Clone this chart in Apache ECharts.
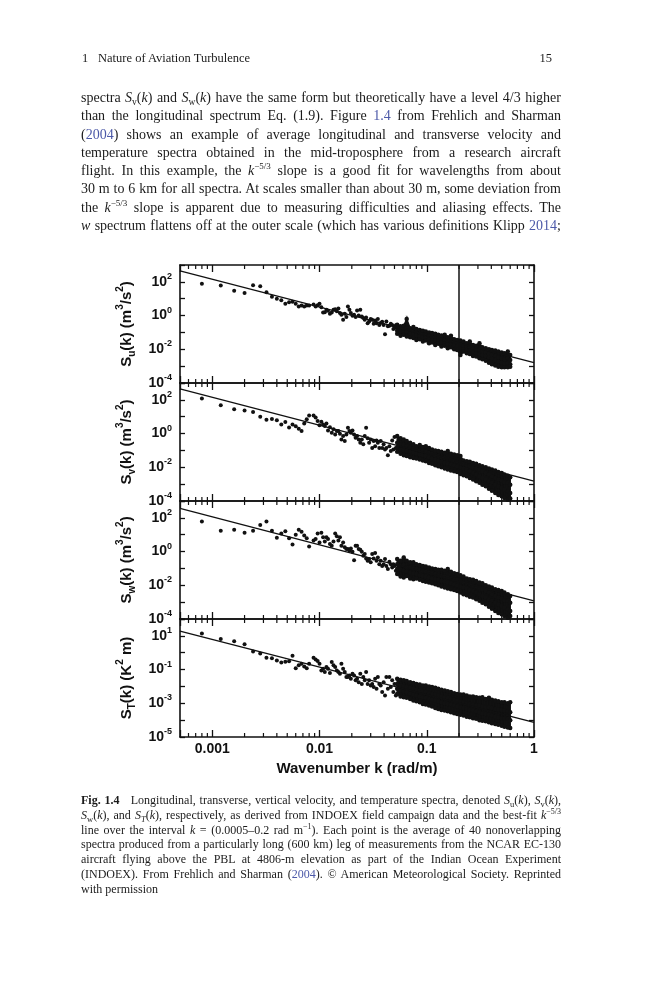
<!DOCTYPE html>
<html>
<head>
<meta charset="utf-8">
<title>Fig. 1.4 spectra</title>
<script src="https://cdn.jsdelivr.net/npm/echarts@6.0.0/dist/echarts.min.js"></script>
<style>
  html, body { margin: 0; padding: 0; background: #fff; }
  #page { position: relative; width: 659px; height: 1000px; overflow: hidden;
          font-family: "Liberation Serif", "Times New Roman", serif; color: #1b1b1b; }
  #chart { position: absolute; left: 0; top: 0; width: 659px; height: 1000px; }
  .head { position: absolute; top: 51px; font-size: 12.5px; line-height: 15px; }
  .block { position: absolute; left: 81px; width: 480px; }
  .block div { text-align: justify; text-align-last: justify; }
  .block div.last { text-align-last: left; word-spacing: normal; }
  .body { top: 89px; font-size: 14px; line-height: 18.3px; }
  .cap { top: 793px; font-size: 12px; line-height: 14.8px; }
  .cap div { word-spacing: -2px; }
  sup, sub { line-height: 0; }
  .body sup { font-size: 9px; vertical-align: 6px; }
  .body sub { font-size: 9.5px; vertical-align: -3px; }
  .cap sup { font-size: 8px; vertical-align: 5px; }
  .cap sub { font-size: 8.5px; vertical-align: -3px; }
  .ref { color: #4b58a8; }
</style>
</head>
<body>
<div id="page">
  <div id="chart"></div>
  <div class="head" style="left:82px">1</div>
  <div class="head" style="left:98px">Nature of Aviation Turbulence</div>
  <div class="head" style="right:107px">15</div>
  <div class="block body">
    <div>spectra <i>S</i><sub>v</sub>(<i>k</i>) and <i>S</i><sub>w</sub>(<i>k</i>) have the same form but theoretically have a level 4/3 higher</div>
    <div>than the longitudinal spectrum Eq. (1.9). Figure <span class="ref">1.4</span> from Frehlich and Sharman</div>
    <div>(<span class="ref">2004</span>) shows an example of average longitudinal and transverse velocity and</div>
    <div>temperature spectra obtained in the mid-troposphere from a research aircraft</div>
    <div>flight. In this example, the <i>k</i><sup>&minus;5/3</sup> slope is a good fit for wavelengths from about</div>
    <div>30 m to 6 km for all spectra. At scales smaller than about 30 m, some deviation from</div>
    <div>the <i>k</i><sup>&minus;5/3</sup> slope is apparent due to measuring difficulties and aliasing effects. The</div>
    <div><i>w</i> spectrum flattens off at the outer scale (which has various definitions Klipp <span class="ref">2014</span>;</div>
  </div>
  <div class="block cap">
    <div><b>Fig. 1.4</b>&nbsp;&nbsp; Longitudinal, transverse, vertical velocity, and temperature spectra, denoted <i>S</i><sub>u</sub>(<i>k</i>), <i>S</i><sub>v</sub>(<i>k</i>),</div>
    <div><i>S</i><sub>w</sub>(<i>k</i>), and <i>S</i><sub><i>T</i></sub>(<i>k</i>), respectively, as derived from INDOEX field campaign data and the best-fit <i>k</i><sup>&minus;5/3</sup></div>
    <div>line over the interval <i>k</i> = (0.0005&ndash;0.2 rad m<sup>&minus;1</sup>). Each point is the average of 40 nonoverlapping</div>
    <div>spectra produced from a particularly long (600 km) leg of measurements from the NCAR EC-130</div>
    <div>aircraft flying above the PBL at 4806-m elevation as part of the Indian Ocean Experiment</div>
    <div>(INDOEX). From Frehlich and Sharman (<span class="ref">2004</span>). &copy; American Meteorological Society. Reprinted</div>
    <div class="last">with permission</div>
  </div>
</div>
<script>
var fontSans = '"Liberation Sans", Arial, sans-serif';
var ink = '#111';

// wavenumbers (rad/m) of the plotted points
var kSparse = [0.0008, 0.0012, 0.0016, 0.002, 0.0024, 0.0028, 0.0032, 0.0036, 0.004, 0.0044,
  0.0048, 0.0052, 0.0056, 0.006, 0.0064, 0.0068, 0.0072, 0.0076, 0.008];
var kMidA = [0.0088, 0.0096, 0.0104, 0.0112, 0.012, 0.013, 0.014, 0.015, 0.016, 0.0172,
  0.0184, 0.0196, 0.021, 0.0224, 0.024, 0.0256, 0.0272, 0.029, 0.031, 0.033,
  0.035, 0.0372, 0.0396, 0.042, 0.0448, 0.0476, 0.05];
var kMidB = [0.0092, 0.01, 0.0108, 0.0116, 0.0125, 0.0135, 0.0145, 0.0155, 0.0166, 0.0178,
  0.019, 0.0203, 0.0217, 0.0232, 0.0248, 0.0264, 0.0281, 0.03, 0.032, 0.034,
  0.0361, 0.0384, 0.0408, 0.0434, 0.0462, 0.0488, 0.0515];
var kDense = [0.053, 0.057, 0.061, 0.065, 0.07, 0.075, 0.08, 0.086, 0.092, 0.098,
  0.105, 0.112, 0.12, 0.128, 0.137, 0.147, 0.157, 0.168, 0.18, 0.192,
  0.206, 0.22, 0.236, 0.252, 0.27, 0.289, 0.31, 0.33, 0.355, 0.38,
  0.405, 0.435, 0.465, 0.5, 0.53, 0.57, 0.6];

// ends of the best-fit k^-5/3 lines and the upper end of the fit interval
var fitK = [0.0005, 1];
var cutoffK = 0.2;

// tick marks / labels of the wavenumber axis
var minorTickK = [0.0006, 0.0007, 0.0008, 0.0009, 0.002, 0.003, 0.004, 0.005, 0.006, 0.007, 0.008, 0.009,
  0.02, 0.03, 0.04, 0.05, 0.06, 0.07, 0.08, 0.09, 0.2, 0.3, 0.4, 0.5, 0.6, 0.7, 0.8, 0.9];
var xTickLabels = ['0.001', '0.01', '0.1', '1'];

// S_u(k); dense rows are [top, upper, lower, bottom] of the point cloud at each k
var uSparse = [76, 60, 30, 22, 63, 55, 24, 13, 10, 8, 5, 6.2, 6.5, 5, 3.5, 4, 3.5, 3.9, 3.9];
var uMidA = [4.5, 4.1, 3.1, 1.6, 1.9, 1.5, 2.4, 2.6, 1.1, 1.3, 3.4, 1.4, 1.1, 2.0, 2.2, 0.71, 0.78,
  0.45, 0.56, 0.51, 0.62, 0.36, 0.28, 0.45, 0.25, 0.28, 0.21];
var uMidB = [3.5, 5.1, 1.5, 2.2, 1.3, 2.2, 1.8, 1.4, 0.56, 0.81, 2.2, 0.96, 0.81, 1.0, 0.89, 0.56, 0.35,
  0.62, 0.33, 0.35, 0.28, 0.43, 0.079, 0.23, 0.33, 0.16, 0.27];
var uDense = [
  [0.29, 0.18, 0.125, 0.083], [0.23, 0.16, 0.109, 0.063], [0.25, 0.14, 0.1, 0.072], [0.62, 0.18, 0.114, 0.057],
  [0.18, 0.125, 0.083, 0.052], [0.21, 0.114, 0.076, 0.046], [0.16, 0.1, 0.063, 0.036], [0.14, 0.091, 0.057, 0.04],
  [0.125, 0.079, 0.052, 0.029], [0.114, 0.072, 0.046, 0.033], [0.1, 0.063, 0.04, 0.023], [0.091, 0.057, 0.036, 0.025],
  [0.083, 0.052, 0.033, 0.018], [0.072, 0.046, 0.029, 0.021], [0.066, 0.04, 0.025, 0.0145], [0.072, 0.036, 0.023, 0.016],
  [0.052, 0.033, 0.02, 0.0116], [0.063, 0.029, 0.018, 0.0133], [0.04, 0.025, 0.016, 0.01], [0.036, 0.023, 0.0145, 0.0092],
  [0.033, 0.018, 0.0116, 0.0046], [0.029, 0.016, 0.01, 0.0073], [0.023, 0.0145, 0.0092, 0.0058], [0.029, 0.0133, 0.0084, 0.0053],
  [0.018, 0.011, 0.007, 0.004], [0.016, 0.0092, 0.0058, 0.0037], [0.023, 0.0084, 0.0053, 0.0029], [0.0133, 0.0073, 0.0046, 0.0026],
  [0.0116, 0.0064, 0.004, 0.0021], [0.01, 0.0053, 0.0034, 0.0016], [0.0092, 0.0046, 0.0028, 0.0013], [0.0084, 0.004, 0.0023, 0.0011],
  [0.0073, 0.0034, 0.0019, 0.00093], [0.0064, 0.0029, 0.0016, 0.00085], [0.0058, 0.0026, 0.0015, 0.00085], [0.0073, 0.0029, 0.0015, 0.00085],
  [0.0046, 0.0023, 0.0013, 0.00093]
];
var uFit = [450, 0.0016];

// S_v(k)
var vSparse = [120, 48, 28, 23, 19, 10, 6.7, 7.4, 6.2, 3.5, 4.9, 2.3, 3.5, 2.7, 1.9, 1.4, 3.9, 7.1, 12];
var vMidA = [12, 5.6, 5.1, 2.8, 1.5, 1.1, 0.89, 1.4, 0.45, 0.36, 2.2, 1.1, 0.89, 0.71, 0.29, 0.23, 2.2,
  0.29, 0.14, 0.18, 0.29, 0.36, 0.23, 0.14, 0.18, 0.39, 0.62];
var vMidB = [8.9, 3.1, 3.5, 3.9, 2.4, 1.8, 1.4, 0.96, 0.71, 0.89, 1.4, 1.5, 0.57, 0.45, 0.45, 0.71, 0.52,
  0.45, 0.36, 0.39, 0.14, 0.14, 0.114, 0.052, 0.091, 0.114, 0.14];
var vDense = [
  [0.71, 0.29, 0.14, 0.083], [0.52, 0.23, 0.114, 0.063], [0.45, 0.21, 0.1, 0.052], [0.36, 0.18, 0.091, 0.046],
  [0.29, 0.16, 0.083, 0.04], [0.23, 0.13, 0.072, 0.036], [0.18, 0.114, 0.063, 0.033], [0.21, 0.1, 0.057, 0.029],
  [0.16, 0.091, 0.052, 0.025], [0.18, 0.083, 0.046, 0.023], [0.14, 0.072, 0.04, 0.018], [0.114, 0.063, 0.033, 0.016],
  [0.1, 0.052, 0.029, 0.0133], [0.091, 0.046, 0.025, 0.0116], [0.083, 0.04, 0.021, 0.01], [0.072, 0.036, 0.018, 0.0084],
  [0.091, 0.033, 0.016, 0.0073], [0.063, 0.029, 0.0145, 0.0064], [0.057, 0.025, 0.0133, 0.0058], [0.052, 0.023, 0.0116, 0.0053],
  [0.046, 0.021, 0.01, 0.004], [0.025, 0.016, 0.0084, 0.0034], [0.023, 0.0133, 0.0073, 0.0029], [0.021, 0.0116, 0.0058, 0.0023],
  [0.018, 0.01, 0.0046, 0.0019], [0.016, 0.0084, 0.0037, 0.0015], [0.0133, 0.0073, 0.0029, 0.0012], [0.0116, 0.0058, 0.0023, 0.00093],
  [0.01, 0.0046, 0.0019, 0.00074], [0.0084, 0.0037, 0.0015, 0.00054], [0.0073, 0.0029, 0.0012, 0.00041], [0.0064, 0.0023, 0.00093, 0.0003],
  [0.0053, 0.0019, 0.00074, 0.00023], [0.0046, 0.0016, 0.00059, 0.00019], [0.0037, 0.0013, 0.00047, 0.00015], [0.0032, 0.0012, 0.00037, 0.00012],
  [0.0026, 0.00093, 0.0003, 0.00014]
];
var vFit = [450, 0.0015];

// S_w(k)
var wSparse = [60, 17, 20, 13, 17, 38, 60, 17, 6.7, 12, 16, 6.2, 2.6, 9.8, 20, 15, 8.9, 6.2, 2.0];
var wMidA = [4.5, 12, 13, 3.9, 5.6, 2.2, 12, 4.5, 2.2, 1.8, 1.4, 1.5, 0.31, 2.2, 1.3, 0.57, 0.39,
  0.36, 0.71, 0.81, 0.45, 0.29, 0.18, 0.14, 0.25, 0.114, 0.14];
var wMidB = [5.6, 3.5, 7.0, 7.0, 2.8, 3.9, 8.1, 7.0, 3.5, 1.4, 1.1, 0.96, 2.2, 1.4, 0.96, 0.71, 0.29,
  0.23, 0.39, 0.29, 0.18, 0.14, 0.36, 0.091, 0.18, 0.18, 0.072];
var wDense = [
  [0.36, 0.18, 0.091, 0.046], [0.29, 0.14, 0.083, 0.033], [0.45, 0.16, 0.072, 0.029], [0.29, 0.114, 0.063, 0.036],
  [0.23, 0.114, 0.057, 0.025], [0.23, 0.1, 0.052, 0.023], [0.18, 0.091, 0.046, 0.025], [0.16, 0.083, 0.04, 0.021],
  [0.14, 0.072, 0.036, 0.018], [0.13, 0.063, 0.033, 0.016], [0.114, 0.057, 0.029, 0.0145], [0.1, 0.052, 0.025, 0.0133],
  [0.091, 0.046, 0.023, 0.0116], [0.083, 0.04, 0.021, 0.01], [0.083, 0.036, 0.018, 0.0084], [0.072, 0.033, 0.016, 0.0073],
  [0.091, 0.029, 0.0145, 0.0064], [0.063, 0.025, 0.0133, 0.0058], [0.052, 0.023, 0.0116, 0.0053], [0.046, 0.021, 0.01, 0.0046],
  [0.04, 0.018, 0.0084, 0.0037], [0.033, 0.0145, 0.0073, 0.0029], [0.025, 0.0133, 0.0064, 0.0026], [0.023, 0.0116, 0.0053, 0.0021],
  [0.021, 0.01, 0.0046, 0.0019], [0.018, 0.0084, 0.0037, 0.0015], [0.0145, 0.0073, 0.0029, 0.0012], [0.0133, 0.0058, 0.0023, 0.00093],
  [0.01, 0.0046, 0.0019, 0.00074], [0.0084, 0.0037, 0.0015, 0.00054], [0.0073, 0.0029, 0.0012, 0.00041], [0.0058, 0.0023, 0.00093, 0.0003],
  [0.0053, 0.0019, 0.00074, 0.00023], [0.0046, 0.0016, 0.00059, 0.00019], [0.0037, 0.0013, 0.00047, 0.00015], [0.0029, 0.0012, 0.00037, 0.00012],
  [0.0023, 0.00093, 0.0003, 0.00015]
];
var wFit = [360, 0.0012];

// S_T(k)
var tSparse = [14, 6.6, 4.8, 3.2, 1.2, 0.89, 0.51, 0.47, 0.35, 0.26, 0.29, 0.31, 0.67, 0.12, 0.18, 0.22, 0.15, 0.12, 0.22];
var tMidA = [0.51, 0.32, 0.089, 0.071, 0.11, 0.28, 0.14, 0.071, 0.22, 0.071, 0.036, 0.029, 0.045, 0.029, 0.057, 0.036, 0.071,
  0.023, 0.014, 0.029, 0.036, 0.0114, 0.018, 0.036, 0.036, 0.023, 0.014];
var tMidB = [0.39, 0.22, 0.11, 0.14, 0.062, 0.18, 0.089, 0.057, 0.11, 0.036, 0.045, 0.057, 0.023, 0.018, 0.014, 0.023, 0.014,
  0.0114, 0.0091, 0.0072, 0.014, 0.0046, 0.0029, 0.0072, 0.0091, 0.0046, 0.0029];
var tDense = [
  [0.029, 0.014, 0.0072, 0.0036], [0.025, 0.0114, 0.0057, 0.0025], [0.023, 0.01, 0.0052, 0.0023], [0.021, 0.0091, 0.0046, 0.0021],
  [0.018, 0.0083, 0.004, 0.0018], [0.016, 0.0072, 0.0033, 0.00145], [0.014, 0.0063, 0.0029, 0.00133], [0.013, 0.0057, 0.0025, 0.00116],
  [0.0114, 0.0052, 0.0023, 0.00092], [0.0114, 0.0046, 0.0021, 0.00084], [0.01, 0.004, 0.0018, 0.00073], [0.0091, 0.0036, 0.0016, 0.00064],
  [0.0083, 0.0033, 0.00145, 0.00053], [0.0072, 0.0029, 0.00133, 0.00046], [0.0063, 0.0025, 0.00116, 0.0004], [0.0057, 0.0023, 0.001, 0.00037],
  [0.0052, 0.0021, 0.00092, 0.00034], [0.0046, 0.0018, 0.00084, 0.00029], [0.004, 0.0016, 0.00073, 0.00026], [0.0036, 0.00145, 0.00064, 0.00023],
  [0.0033, 0.00133, 0.00058, 0.00021], [0.0033, 0.00116, 0.00053, 0.00019], [0.0029, 0.001, 0.00046, 0.00016], [0.0025, 0.00092, 0.0004, 0.00015],
  [0.0025, 0.00084, 0.00037, 0.00013], [0.0023, 0.00073, 0.00034, 0.00012], [0.0021, 0.00073, 0.00029, 0.0001], [0.0023, 0.00064, 0.00026, 0.000093],
  [0.0018, 0.00058, 0.00023, 0.000085], [0.0021, 0.00058, 0.00021, 0.000074], [0.0016, 0.00053, 0.00019, 0.000066], [0.00145, 0.00046, 0.00016, 0.000059],
  [0.00133, 0.00044, 0.00015, 0.000054], [0.00116, 0.0004, 0.00013, 0.000047], [0.00116, 0.00037, 0.00012, 0.000041], [0.001, 0.00034, 0.00012, 0.000037],
  [0.00116, 0.00029, 0.0001, 0.000034]
];
var tFit = [19, 0.000074];

var panels = [
  { title: '{b|S}{sub|u}{b|(k) (m}{sup|3}{b|/s}{sup|2}{b|)}', min: 1e-4, max: 1e3, oddLabels: false,
    sparse: uSparse, midA: uMidA, midB: uMidB, dense: uDense, fit: uFit },
  { title: '{b|S}{sub|v}{b|(k) (m}{sup|3}{b|/s}{sup|2}{b|)}', min: 1e-4, max: 1e3, oddLabels: false,
    sparse: vSparse, midA: vMidA, midB: vMidB, dense: vDense, fit: vFit },
  { title: '{b|S}{sub|w}{b|(k) (m}{sup|3}{b|/s}{sup|2}{b|)}', min: 1e-4, max: 1e3, oddLabels: false,
    sparse: wSparse, midA: wMidA, midB: wMidB, dense: wDense, fit: wFit },
  { title: '{b|S}{sub|T}{b|(k) (K}{sup|2}{b| m)}', min: 1e-5, max: 1e2, oddLabels: true,
    sparse: tSparse, midA: tMidA, midB: tMidB, dense: tDense, fit: tFit }
];

function pairs(ks, vs) {
  return ks.map(function (k, i) { return [k, vs[i]]; });
}
function densePairs(ks, rows) {
  var out = [];
  rows.forEach(function (r, i) {
    r.forEach(function (v) { out.push([ks[i], v]); });
  });
  return out;
}
// one item per gap between neighbouring k: [k0, top0, bottom0, k1, top1, bottom1]
function bandItems(ks, rows) {
  var out = [];
  for (var i = 0; i + 1 < ks.length; i++) {
    out.push([ks[i], rows[i][0], rows[i][3], ks[i + 1], rows[i + 1][0], rows[i + 1][3]]);
  }
  return out;
}

var powRich = {
  b: { fontFamily: fontSans, fontWeight: 'bold', fontSize: 14, color: ink, lineHeight: 20 },
  s: { fontFamily: fontSans, fontWeight: 'bold', fontSize: 9, color: ink, lineHeight: 8, verticalAlign: 'top' }
};
var nameRich = {
  b: { fontFamily: fontSans, fontWeight: 'bold', fontSize: 15, color: ink, lineHeight: 22 },
  sub: { fontFamily: fontSans, fontWeight: 'bold', fontSize: 10, color: ink, lineHeight: 10, verticalAlign: 'bottom' },
  sup: { fontFamily: fontSans, fontWeight: 'bold', fontSize: 10, color: ink, lineHeight: 8, verticalAlign: 'top' }
};

function makeX(grid, pos, labelled) {
  return {
    type: 'log', logBase: 10, gridIndex: grid, position: pos, min: 0.0005, max: 1,
    axisLine: { show: true, onZero: false, lineStyle: { color: ink, width: 1.6 } },
    axisTick: { show: true, inside: true, length: 7, lineStyle: { color: ink, width: 1.3 } },
    minorTick: { show: false },
    splitLine: { show: false },
    axisLabel: {
      show: labelled, margin: 5, showMinLabel: true, showMaxLabel: true,
      fontFamily: fontSans, fontWeight: 'bold', fontSize: 14, color: ink,
      formatter: function (v) { return xTickLabels.indexOf(String(v)) >= 0 ? String(v) : ''; }
    },
    name: labelled ? 'Wavenumber k (rad/m)' : '',
    nameLocation: 'middle', nameGap: 24,
    nameTextStyle: { fontFamily: fontSans, fontWeight: 'bold', fontSize: 15, color: ink }
  };
}

function makeY(grid, pos, p) {
  var left = pos === 'left';
  return {
    type: 'log', logBase: 10, gridIndex: grid, position: pos, min: p.min, max: p.max,
    axisLine: { show: true, onZero: false, lineStyle: { color: ink, width: 1.6 } },
    axisTick: { show: true, inside: true, length: 5, lineStyle: { color: ink, width: 1.3 } },
    minorTick: { show: false },
    splitLine: { show: false },
    axisLabel: {
      show: left, margin: 8, showMinLabel: true, showMaxLabel: true, rich: powRich,
      formatter: function (v) {
        var e = Math.round(Math.log(v) / Math.LN10);
        var odd = Math.abs(e % 2) === 1;
        return odd === p.oddLabels ? '{b|10}{s|' + e + '}' : '';
      }
    },
    name: left ? p.title : '',
    nameLocation: 'middle', nameRotate: 90, nameGap: 33,
    nameTextStyle: { rich: nameRich }
  };
}

function minorTicks(params, api) {
  var x = api.coord([api.value(0), api.value(1)])[0];
  var cs = params.coordSys;
  var st = { stroke: ink, lineWidth: 1.2 };
  return {
    type: 'group',
    children: [
      { type: 'line', shape: { x1: x, y1: cs.y, x2: x, y2: cs.y + 4 }, style: st },
      { type: 'line', shape: { x1: x, y1: cs.y + cs.height, x2: x, y2: cs.y + cs.height - 4 }, style: st }
    ]
  };
}

// solid fill of the dense part of the cloud, between its top and bottom rows
function denseBand(params, api) {
  var a = api.coord([api.value(0), api.value(1)]);
  var b = api.coord([api.value(3), api.value(4)]);
  var c = api.coord([api.value(3), api.value(5)]);
  var d = api.coord([api.value(0), api.value(2)]);
  return {
    type: 'polygon',
    shape: { points: [a, b, c, d] },
    style: { fill: ink, stroke: ink, lineWidth: 1.5 }
  };
}

var grids = [], xAxes = [], yAxes = [], series = [];
panels.forEach(function (p, i) {
  grids.push({ left: 180, width: 354, top: 265 + i * 118, height: 118,
    containLabel: false, outerBoundsMode: 'none' });
  xAxes.push(makeX(i, 'bottom', i === panels.length - 1));
  xAxes.push(makeX(i, 'top', false));
  yAxes.push(makeY(i, 'left', p));
  yAxes.push(makeY(i, 'right', p));
  var xi = 2 * i, yi = 2 * i;
  series.push({
    type: 'custom', xAxisIndex: xi, yAxisIndex: yi, silent: true,
    renderItem: denseBand,
    encode: { x: [0, 3], y: [1, 2, 4, 5] },
    data: bandItems(kDense, p.dense)
  });
  series.push({
    type: 'scatter', xAxisIndex: xi, yAxisIndex: yi, symbol: 'circle', symbolSize: 4,
    itemStyle: { color: ink, opacity: 1 }, silent: true,
    data: pairs(kSparse, p.sparse).concat(pairs(kMidA, p.midA), pairs(kMidB, p.midB))
  });
  series.push({
    type: 'scatter', xAxisIndex: xi, yAxisIndex: yi, symbol: 'circle', symbolSize: 4.5,
    itemStyle: { color: ink, opacity: 1 }, silent: true,
    data: densePairs(kDense, p.dense)
  });
  series.push({
    type: 'line', xAxisIndex: xi, yAxisIndex: yi, symbol: 'none', silent: true,
    lineStyle: { color: ink, width: 1.3 },
    data: pairs(fitK, p.fit),
    markLine: {
      silent: true, symbol: ['none', 'none'], label: { show: false },
      lineStyle: { color: ink, width: 1.5, type: 'solid' },
      data: [{ xAxis: cutoffK }]
    }
  });
  series.push({
    type: 'custom', xAxisIndex: xi, yAxisIndex: yi, silent: true,
    renderItem: minorTicks,
    data: minorTickK.map(function (k) { return [k, 1]; })
  });
});

var chart = echarts.init(document.getElementById('chart'));
chart.setOption({
  animation: false,
  grid: grids,
  xAxis: xAxes,
  yAxis: yAxes,
  series: series
});
</script>
</body>
</html>
